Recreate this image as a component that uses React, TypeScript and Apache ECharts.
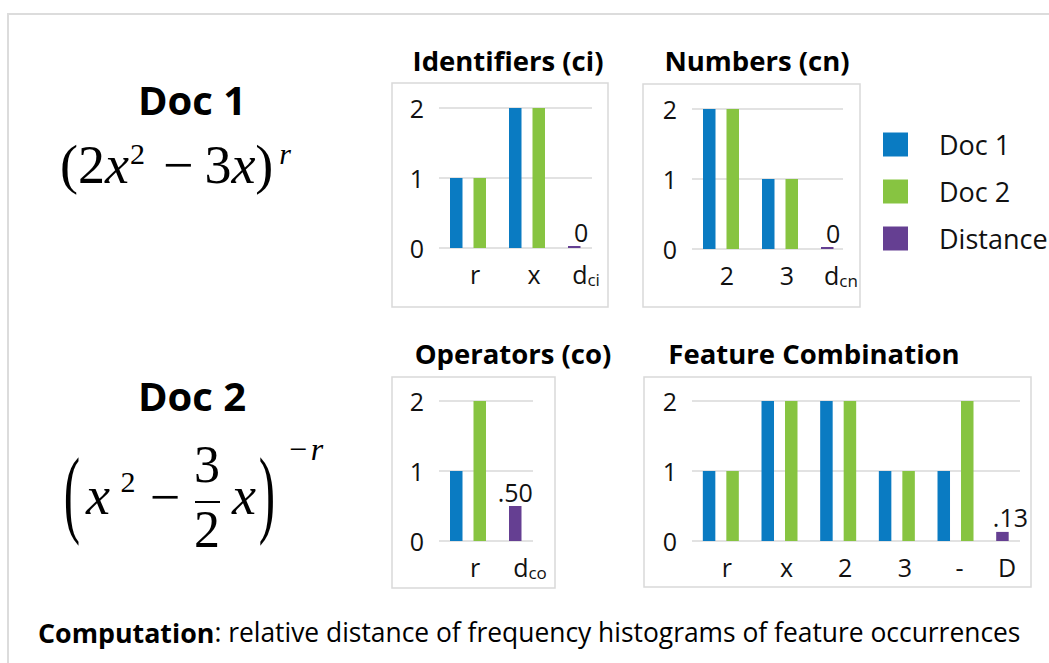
import React, { useEffect, useRef } from "react";
import * as echarts from "echarts";

// ---------- data ----------
const seriesNames = ["Doc 1", "Doc 2", "Distance"];
const yTicks = [0, 1, 2];

const identCategories = ["r", "x", "d_ci"];
const identDoc1 = [1, 2, null];
const identDoc2 = [1, 2, null];
const identDistance = [null, null, 0];

const numCategories = ["2", "3", "d_cn"];
const numDoc1 = [2, 1, null];
const numDoc2 = [2, 1, null];
const numDistance = [null, null, 0];

const opCategories = ["r", "d_co"];
const opDoc1 = [1, null];
const opDoc2 = [2, null];
const opDistance = [null, 0.5];

const combCategories = ["r", "x", "2", "3", "-", "D"];
const combDoc1 = [1, 2, 2, 1, 1, null];
const combDoc2 = [1, 2, 2, 1, 2, null];
const combDistance = [null, null, null, null, null, 0.13];

// ---------- style ----------
const BLUE = "#0a7bc2";
const GREEN = "#87c441";
const PURPLE = "#653f92";
const GRIDLINE = "#d9d9d9";
const SANS = '"Open Sans", sans-serif';
const SERIF = '"Liberation Serif", serif';
const INK = "#111";

type Panel = {
  title: string;
  titleX: number;
  titleY: number;
  box: [number, number, number, number];
  cats: string[];
  doc1: (number | null)[];
  doc2: (number | null)[];
  dist: (number | null)[];
  barLeft: number;
  catW: number;
  lineLeft: number;
  lineW: number;
  top: number;
  labelShift: number[];
  valueDx: number;
};

const panels: Panel[] = [
  {
    title: "Identifiers (ci)", titleX: 508, titleY: 60, box: [392, 83, 216, 224],
    cats: identCategories, doc1: identDoc1, doc2: identDoc2, dist: identDistance,
    barLeft: 438.5, catW: 59, lineLeft: 439, lineW: 153, top: 108,
    labelShift: [7, 7, 0], valueDx: 7,
  },
  {
    title: "Numbers (cn)", titleX: 757, titleY: 60, box: [643, 84, 217, 223],
    cats: numCategories, doc1: numDoc1, doc2: numDoc2, dist: numDistance,
    barLeft: 691.5, catW: 59, lineLeft: 692, lineW: 151, top: 109,
    labelShift: [6, 7, 2], valueDx: 6,
  },
  {
    title: "Operators (co)", titleX: 513, titleY: 353, box: [392, 377, 163, 211],
    cats: opCategories, doc1: opDoc1, doc2: opDoc2, dist: opDistance,
    barLeft: 438.5, catW: 59, lineLeft: 439, lineW: 94, top: 401,
    labelShift: [7, 3], valueDx: 0,
  },
  {
    title: "Feature Combination", titleX: 814, titleY: 353, box: [644, 377, 387, 210],
    cats: combCategories, doc1: combDoc1, doc2: combDoc2, dist: combDistance,
    barLeft: 691.5, catW: 58.67, lineLeft: 692, lineW: 328, top: 401,
    labelShift: [6, 7, 7, 8, 4, -7], valueDx: 8,
  },
];

const PLOT_H = 140;

function fmtValue(v: number) {
  if (v === 0) return "0";
  return v.toFixed(2).replace(/^0/, "");
}

function buildOption() {
  const grid: any[] = [];
  const xAxis: any[] = [];
  const yAxis: any[] = [];
  const series: any[] = [];
  const graphic: any[] = [];

  panels.forEach((p, k) => {
    const a = 2 * k;
    const b = 2 * k + 1;
    grid.push({ left: p.barLeft, top: p.top, width: p.catW * p.cats.length, height: PLOT_H });
    grid.push({ left: p.lineLeft, top: p.top, width: p.lineW, height: PLOT_H });

    const rich: any = {
      s: { fontSize: 17, fontFamily: SANS, color: INK, lineHeight: 17, verticalAlign: "bottom" },
    };
    p.labelShift.forEach((s, i) => {
      rich["c" + i] = {
        fontSize: 25, fontFamily: SANS, color: INK, lineHeight: 28,
        padding: s >= 0 ? [0, 0, 0, 2 * s] : [0, -2 * s, 0, 0],
      };
    });

    xAxis.push({
      type: "category", gridIndex: a, data: p.cats,
      axisLine: { show: false }, axisTick: { show: false }, splitLine: { show: false },
      axisLabel: {
        interval: 0, margin: 12, rich,
        formatter: (val: string, idx: number) => {
          const parts = val.split("_");
          if (parts.length > 1) return `{c${idx}|${parts[0]}}{s|${parts[1]}}`;
          return `{c${idx}|${val}}`;
        },
      },
    });
    yAxis.push({ type: "value", gridIndex: a, min: yTicks[0], max: yTicks[yTicks.length - 1], interval: 1, show: false });

    xAxis.push({ type: "value", gridIndex: b, min: 0, max: 1, show: false });
    yAxis.push({
      type: "value", gridIndex: b, min: yTicks[0], max: yTicks[yTicks.length - 1], interval: 1,
      axisLine: { show: false }, axisTick: { show: false },
      splitLine: { show: true, lineStyle: { color: GRIDLINE, width: 1.5 } },
      axisLabel: { fontSize: 25, fontFamily: SANS, color: INK, margin: 15 },
    });

    const common = { type: "bar", xAxisIndex: a, yAxisIndex: a, barWidth: 12.5, barGap: "88%" };
    series.push({ ...common, name: seriesNames[0], stack: "s" + k, data: p.doc1, itemStyle: { color: BLUE } });
    series.push({ ...common, name: seriesNames[1], data: p.doc2, itemStyle: { color: GREEN } });
    series.push({
      ...common, name: seriesNames[2], stack: "s" + k, data: p.dist, barMinHeight: 2,
      itemStyle: { color: PURPLE },
      label: {
        show: true, position: "top", distance: 2, offset: [p.valueDx, 0],
        fontSize: 25, fontFamily: SANS, color: INK,
        formatter: (q: any) => fmtValue(q.value),
      },
    });

    graphic.push({
      type: "rect", shape: { x: p.box[0], y: p.box[1], width: p.box[2], height: p.box[3] },
      style: { fill: "none", stroke: GRIDLINE, lineWidth: 1.5 }, z: -1,
    });
    graphic.push({
      type: "text", x: p.titleX, y: p.titleY,
      style: {
        text: p.title, fill: "#000", fontSize: 27.5, fontWeight: "bold", fontFamily: SANS,
        textAlign: "center", align: "center", textVerticalAlign: "middle", verticalAlign: "middle",
      },
    });
  });

  // outer frame
  graphic.push({
    type: "rect", shape: { x: 8, y: 14, width: 1100, height: 720 },
    style: { fill: "none", stroke: "#dcdcdc", lineWidth: 2 }, z: -2,
  });

  // Doc headings
  const heading = (text: string, y: number) => ({
    type: "text", x: 192, y,
    style: {
      text, fill: "#000", fontSize: 40, fontWeight: "bold", fontFamily: SANS,
      textAlign: "center", align: "center", textVerticalAlign: "middle", verticalAlign: "middle",
    },
  });
  graphic.push(heading("Doc 1", 99));
  graphic.push(heading("Doc 2", 395));

  // formula 1: (2x^2 - 3x)^r
  graphic.push({
    type: "text", x: 60, y: 165,
    style: {
      text: "{n|(2}{i|x}{s|2}{m|−}{n|3}{i|x}{n|)}{si|r}",
      textAlign: "left", align: "left", textVerticalAlign: "middle", verticalAlign: "middle",
      rich: {
        n: { fontSize: 54, fontFamily: SERIF, fill: "#000", color: "#000", lineHeight: 64 },
        m: { fontSize: 54, fontFamily: SERIF, fill: "#000", color: "#000", lineHeight: 64, padding: [0, 11, 0, 18] },
        i: { fontSize: 54, fontFamily: SERIF, fontStyle: "italic", fill: "#000", color: "#000", lineHeight: 64 },
        s: { fontSize: 30, fontFamily: SERIF, fill: "#000", color: "#000", lineHeight: 30, padding: [0, 0, 24, 1] },
        si: { fontSize: 30, fontFamily: SERIF, fontStyle: "italic", fill: "#000", color: "#000", lineHeight: 30, padding: [0, 0, 24, 6] },
      },
    },
  });

  // formula 2: (x^2 - 3/2 x)^{-r}
  const mt = (text: string, x: number, y: number, size: number, italic = false, extra: any = {}) => ({
    type: "text", x, y, ...extra,
    style: {
      text, fill: "#000", fontSize: size, fontFamily: SERIF, fontStyle: italic ? "italic" : "normal",
      textAlign: "center", align: "center", textVerticalAlign: "middle", verticalAlign: "middle",
    },
  });
  graphic.push(mt("(", 72, 492, 98, false, { scaleX: 0.5 }));
  graphic.push(mt("x", 98, 496, 54, true));
  graphic.push(mt("2", 128, 481, 30));
  graphic.push(mt("−", 165, 497, 54));
  graphic.push(mt("3", 207, 464, 52));
  graphic.push({ type: "line", shape: { x1: 195, y1: 502, x2: 220, y2: 502 }, style: { stroke: "#000", lineWidth: 2 } });
  graphic.push(mt("2", 207, 529, 52));
  graphic.push(mt("x", 244, 496, 54, true));
  graphic.push(mt(")", 267, 492, 98, false, { scaleX: 0.5 }));
  graphic.push(mt("−", 298, 449, 32));
  graphic.push(mt("r", 317, 449, 32, true));

  // bottom caption
  graphic.push({
    type: "text", x: 38, y: 632,
    style: {
      text: "{b|Computation}{r|: relative distance of frequency histograms of feature occurrences}",
      textAlign: "left", align: "left", textVerticalAlign: "middle", verticalAlign: "middle",
      rich: {
        b: { fontSize: 26.8, fontWeight: "bold", fontFamily: SANS, color: "#000", fill: "#000" },
        r: { fontSize: 26.4, fontFamily: SANS, color: "#000", fill: "#000" },
      },
    },
  });

  return {
    animation: false,
    backgroundColor: "#fff",
    legend: {
      data: seriesNames, orient: "vertical", left: 883, top: 131, padding: 0,
      itemWidth: 25, itemHeight: 24, itemGap: 20, icon: "rect", selectedMode: false,
      textStyle: { fontSize: 27, fontFamily: SANS, color: INK, padding: [0, 0, 0, 26] },
    },
    grid, xAxis, yAxis, series, graphic,
  };
}

export default function App() {
  const ref = useRef<HTMLDivElement>(null);
  useEffect(() => {
    if (!ref.current) return;
    const chart = echarts.init(ref.current, undefined, { renderer: "svg" });
    chart.setOption(buildOption() as any);
    return () => chart.dispose();
  }, []);
  return (
    <div
      ref={ref}
      style={{ position: "fixed", left: 0, top: 0, width: 1049, height: 663, background: "#fff" }}
    />
  );
}
